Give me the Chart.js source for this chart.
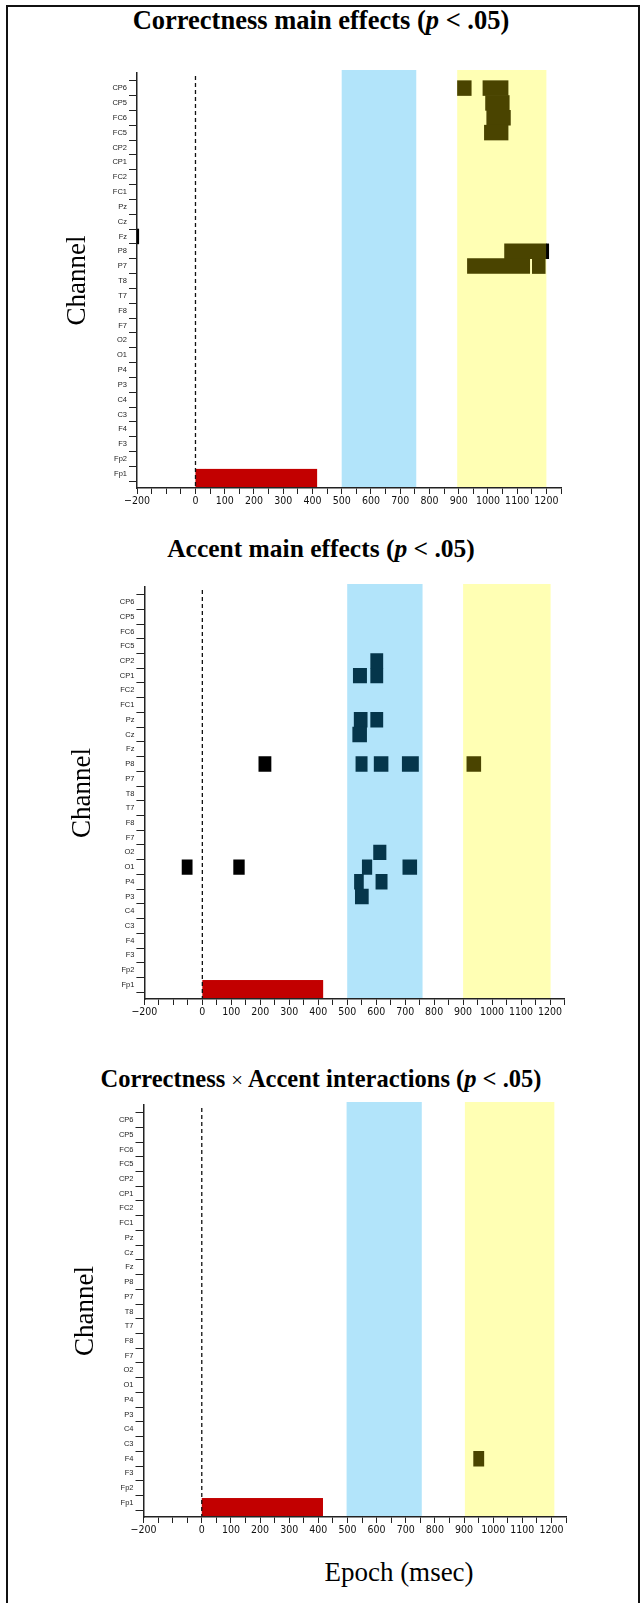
<!DOCTYPE html>
<html>
<head>
<meta charset="utf-8">
<script src="https://cdn.jsdelivr.net/npm/chart.js@4.4.1/dist/chart.umd.min.js"></script>
<style>
  html, body { margin: 0; padding: 0; background: #fff; }
  body { width: 642px; height: 1603px; position: relative; overflow: hidden; }
  .frame { position: absolute; left: 6px; top: 5px; width: 634px; height: 1620px; border: 2.5px solid #111; box-sizing: border-box; }
  canvas { position: absolute; left: 0; }
  .title { position: absolute; left: 0; width: 642px; text-align: center; color: #000;
           font: bold 26px "Liberation Serif", "Times New Roman", serif; line-height: 30px; }
  .title .x { font-weight: normal; font-size: 0.85em; }
  .xname { position: absolute; left: 0; width: 798px; text-align: center; color: #000;
           font: 27px "Liberation Serif", "Times New Roman", serif; line-height: 32px; }
</style>
</head>
<body>
<div class="frame"></div>
<div class="title" style="top:5px; font-size:26.5px">Correctness main effects (<i>p</i> &lt; .05)</div>
<canvas id="panel1" width="642" height="510" style="top:0px"></canvas>
<div class="title" style="top:534px; font-size:25.5px">Accent main effects (<i>p</i> &lt; .05)</div>
<canvas id="panel2" width="642" height="501" style="top:520px"></canvas>
<div class="title" style="top:1064px; font-size:24.5px">Correctness <span class="x">&times;</span> Accent interactions (<i>p</i> &lt; .05)</div>
<canvas id="panel3" width="642" height="499" style="top:1040px"></canvas>
<div class="xname" style="top:1556px">Epoch (msec)</div>
<script>
// channel order, bottom to top
const channels = ["Fp1", "Fp2", "F3", "F4", "C3", "C4", "P3", "P4", "O1", "O2",
  "F7", "F8", "T7", "T8", "P7", "P8", "Fz", "Cz", "Pz", "FC1", "FC2",
  "CP1", "CP2", "FC5", "FC6", "CP5", "CP6"];
const xTickLabels = [-200, 0, 100, 200, 300, 400, 500, 600, 700, 800, 900, 1000, 1100, 1200];

// analysis windows (msec) for each panel
const blueWindows = [[500, 755], [500, 760], [497, 755]];
const yellowWindows = [[895, 1200], [900, 1202], [903, 1210]];
const stimulus = [[0, 416], [0, 417], [0, 416]];

// significant segments: [channel, start msec, end msec]
const correctnessMarks = [
  ["CP6", 896, 943], ["CP6", 983, 1069], ["CP5", 992, 1073], ["FC6", 996, 1077],
  ["FC5", 988, 1069], ["Fz", -200, -194],
  ["P8", 1057, 1200], ["P8", 1200, 1208],
  ["P7", 930, 1143], ["P7", 1152, 1196]
];
const accentMarks = [
  ["CP2", 581, 623], ["CP1", 581, 623], ["CP1", 521, 567],
  ["Pz", 524, 569], ["Pz", 581, 623], ["Cz", 519, 567],
  ["P8", 195, 237], ["P8", 530, 569], ["P8", 593, 641], ["P8", 690, 746], ["P8", 913, 961],
  ["O2", 591, 634],
  ["O1", -70, -35], ["O1", 108, 145], ["O1", 552, 585], ["O1", 692, 740],
  ["P4", 525, 556], ["P4", 599, 638],
  ["P3", 528, 573]
];
const interactionMarks = [["F4", 933, 968]];

const BLUE = "#b2e4fa";
const YELLOW = "#ffffb4";
const RED = "#c20000";

function markColor(range, blue, yellow) {
  const mid = (range[0] + range[1]) / 2;
  if (mid > blue[0] && mid < blue[1]) return "#05364b";
  if (mid > yellow[0] && mid < yellow[1]) return "#4a4400";
  return "#000";
}

const backdrop = {
  id: "backdrop",
  beforeDraw(chart, args, opts) {
    const { ctx, chartArea: a, scales: { x, y } } = chart;
    ctx.save();
    [[opts.blue, BLUE], [opts.yellow, YELLOW]].forEach(([r, col]) => {
      const x0 = x.getPixelForValue(r[0]);
      const x1 = x.getPixelForValue(r[1]);
      ctx.fillStyle = col;
      ctx.fillRect(x0, a.top - 3, x1 - x0, a.bottom - a.top + 3);
    });
    // stimulus bar along the bottom
    const s0 = x.getPixelForValue(opts.stim[0]);
    const s1 = x.getPixelForValue(opts.stim[1]);
    const top = y.getPixelForValue(0.33);
    ctx.fillStyle = RED;
    ctx.fillRect(s0, top, s1 - s0, a.bottom - top);
    // onset line
    const z = x.getPixelForValue(0);
    ctx.setLineDash([4, 3]);
    ctx.lineWidth = 1.3;
    ctx.strokeStyle = "#111";
    ctx.beginPath();
    ctx.moveTo(z, a.top + 3);
    ctx.lineTo(z, a.bottom);
    ctx.stroke();
    ctx.restore();
  }
};

function makePanel(id, marks, k, box) {
  const blue = blueWindows[k];
  const yellow = yellowWindows[k];
  new Chart(document.getElementById(id), {
    type: "bar",
    data: {
      datasets: [{
        data: marks.map(([ch, a, b]) => ({ x: [a, b], y: channels.indexOf(ch) })),
        backgroundColor: (c) => markColor(c.raw.x, blue, yellow),
        borderWidth: 0,
        barPercentage: 1,
        categoryPercentage: 1
      }]
    },
    options: {
      indexAxis: "y",
      responsive: false,
      animation: false,
      layout: { padding: { top: box.top, right: box.right, left: 0, bottom: 0 } },
      plugins: {
        legend: { display: false },
        tooltip: { enabled: false },
        backdrop: { blue: blue, yellow: yellow, stim: stimulus[k] }
      },
      scales: {
        x: {
          type: "linear",
          min: -200,
          max: 1250,
          ticks: {
            stepSize: 50,
            autoSkip: false,
            maxRotation: 0,
            padding: 1,
            color: "#111",
            font: { family: "'Liberation Sans Narrow', 'DejaVu Sans Condensed', sans-serif", size: 10.5 },
            callback: (v) => xTickLabels.includes(v) ? (v < 0 ? "\u2212" + Math.abs(v) : String(v)) : ""
          },
          grid: { drawOnChartArea: false, tickLength: 6, tickColor: "#222", tickWidth: 1 },
          border: { color: "#222", width: 1.5 },
          afterFit: (s) => { s.height = 22; }
        },
        y: {
          type: "linear",
          min: -0.44,
          max: 26.5,
          afterBuildTicks: (s) => { s.ticks = channels.map((c, i) => ({ value: i })); },
          ticks: {
            autoSkip: false,
            padding: 2,
            color: "#222",
            font: { family: "Liberation Sans", size: 7.5 },
            callback: (v) => channels[v]
          },
          grid: { drawOnChartArea: false, tickLength: 8, tickColor: "#222", tickWidth: 1 },
          border: { color: "#222", width: 1.5 },
          title: {
            display: true,
            text: "Channel",
            color: "#000",
            font: { family: "Liberation Serif", size: 27 },
            padding: { top: box.titlePad, bottom: 0 }
          },
          afterFit: (s) => { s.width = box.left; }
        }
      }
    },
    plugins: [backdrop]
  });
}

makePanel("panel1", correctnessMarks, 0, { top: 73, right: 81, left: 137, titlePad: 62 });
makePanel("panel2", accentMarks, 1, { top: 67, right: 77.5, left: 144.4, titlePad: 67 });
makePanel("panel3", interactionMarks, 2, { top: 65, right: 76, left: 143.5, titlePad: 70 });
</script>
</body>
</html>
